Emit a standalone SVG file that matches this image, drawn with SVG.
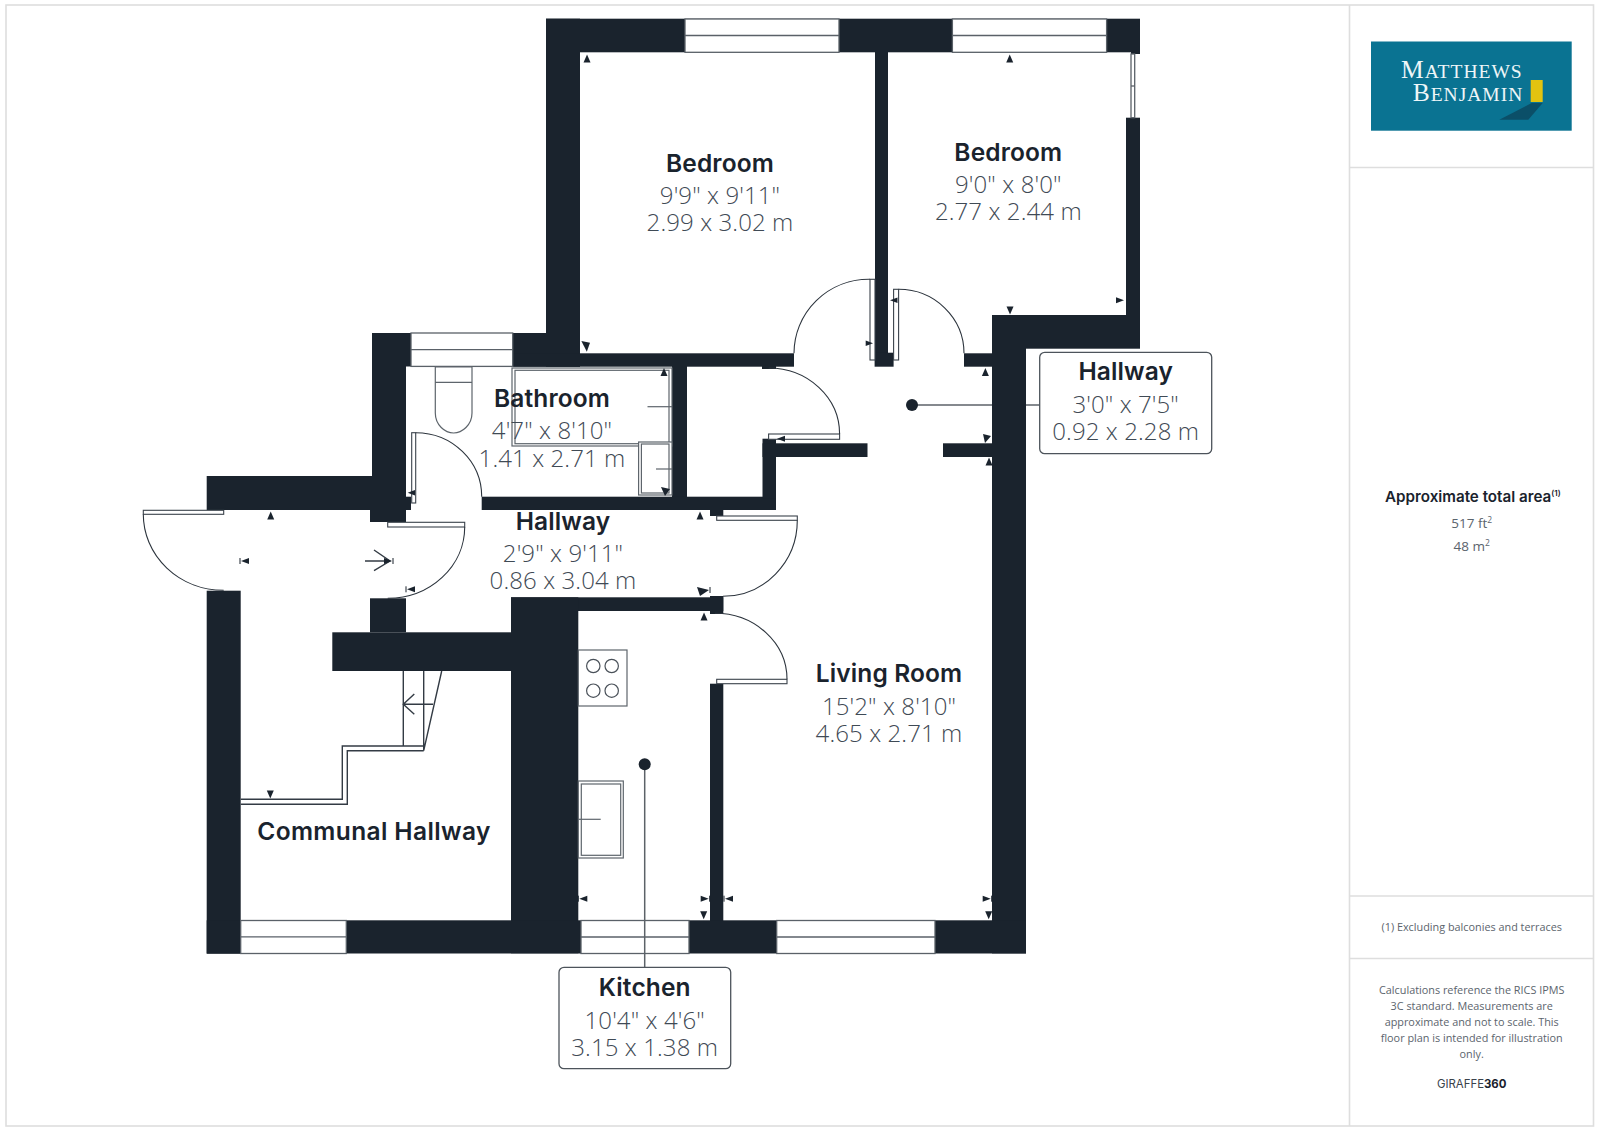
<svg xmlns="http://www.w3.org/2000/svg" width="1600" height="1131" viewBox="0 0 1600 1131">
<style>
.w{fill:#1a232d}
.win{fill:#fff;stroke:#5a6168;stroke-width:1.3}
.fx{fill:#fff;stroke:#5e656c;stroke-width:1.2}
.fo{fill:none;stroke:#5e656c;stroke-width:1.2}
.arc{fill:none;stroke:#2c343d;stroke-width:1.1}
.leaf{fill:#fff;stroke:#3a424b;stroke-width:1.1}
.st{fill:none;stroke:#333b44;stroke-width:1.4}
.mk{fill:#1a232d}
.bar{stroke:#1a232d;stroke-width:1;fill:none}
.lead{stroke:#5c6268;stroke-width:1.5;fill:none}
.box{fill:#fff;stroke:#4d545b;stroke-width:1.3}
.frame{stroke:#dedede;stroke-width:1.6;fill:none}
.n{font-family:Inter,"Liberation Sans",sans-serif;font-weight:600;font-size:24.5px;letter-spacing:.12px;fill:#1a232d;text-anchor:middle}
.d{font-family:"Open Sans","Noto Sans",sans-serif;font-weight:300;font-size:24px;letter-spacing:.1px;fill:#3f4a55;text-anchor:middle}
.s{font-family:"Open Sans","Noto Sans",sans-serif;font-size:10.85px;fill:#5b646d;text-anchor:middle}
.a{font-family:"Open Sans","Noto Sans",sans-serif;font-size:13.5px;fill:#5b646d;text-anchor:middle}
.t{font-family:Inter,"Liberation Sans",sans-serif;font-weight:600;font-size:15.2px;fill:#1a232d}
.lg{font-family:"Liberation Serif",serif;fill:#eef6f8;font-size:19.5px;letter-spacing:1px}
.lg tspan{font-size:25.5px}
</style>
<defs>
<polygon id="u" class="mk" points="0,-4 3.5,4 -3.500,4"/>
<g id="lb"><polygon class="mk" points="-4,0 4,-3 4,3"/><line class="bar" x1="-5" y1="-3" x2="-5" y2="3"/></g>
<g id="rb"><polygon class="mk" points="4,0 -4,-3 -4,3"/><line class="bar" x1="5" y1="-3" x2="5" y2="3"/></g>
</defs>

<g id="frame">
<rect class="frame" x="6" y="5" width="1587.5" height="1121"/>
<line class="frame" x1="1349.5" y1="5" x2="1349.5" y2="1126"/>
<line class="frame" x1="1349.5" y1="167.5" x2="1593.5" y2="167.5"/>
<line class="frame" x1="1349.5" y1="896" x2="1593.5" y2="896"/>
<line class="frame" x1="1349.5" y1="958.5" x2="1593.5" y2="958.5"/>
</g>

<g id="walls">
<rect class="w" x="546" y="18.7" width="594" height="33.6"/>
<rect class="w" x="546" y="18.7" width="34" height="348"/>
<rect class="w" x="372" y="333" width="39" height="33.5"/>
<rect class="w" x="512.7" y="333" width="67.3" height="33.7"/>
<rect class="w" x="512.7" y="353.3" width="281.3" height="13.4"/>
<rect class="w" x="875" y="52" width="13" height="301"/>
<rect class="w" x="874.6" y="352.7" width="19" height="14"/>
<rect class="w" x="964" y="353.3" width="28" height="13.4"/>
<rect class="w" x="1126" y="117.7" width="14" height="200"/>
<rect class="w" x="1131" y="52" width="9" height="2"/>
<rect class="w" x="992" y="315" width="148" height="33.7"/>
<rect class="w" x="992" y="315" width="34" height="638.4"/>
<rect class="w" x="672" y="366" width="15" height="131"/>
<rect class="w" x="481.7" y="496.7" width="294.3" height="13.3"/>
<rect class="w" x="762.5" y="438.7" width="13.5" height="60"/>
<rect class="w" x="762.5" y="443.3" width="105" height="13.7"/>
<rect class="w" x="943" y="443.3" width="49" height="13.7"/>
<rect class="w" x="762" y="366" width="14" height="3"/>
<rect class="w" x="710" y="510" width="13.3" height="6"/>
<rect class="w" x="372" y="366" width="34" height="112"/>
<rect class="w" x="206.7" y="476" width="199.3" height="34"/>
<rect class="w" x="370" y="510" width="36" height="12"/>
<rect class="w" x="406" y="496.7" width="5" height="13.3"/>
<rect class="w" x="206.7" y="590.7" width="34" height="363"/>
<rect class="w" x="370" y="598.3" width="36" height="34"/>
<rect class="w" x="332.3" y="632.3" width="180" height="38.7"/>
<rect class="w" x="511" y="597.3" width="212.3" height="13.7"/>
<rect class="w" x="511" y="597.3" width="67.3" height="356"/>
<rect class="w" x="710" y="596" width="13.3" height="18"/>
<rect class="w" x="710" y="683.7" width="13.3" height="240"/>
<rect class="w" x="206.7" y="920.3" width="819.3" height="33.2"/>
</g>

<g id="windows">
<rect class="win" x="685" y="19" width="154" height="33.3"/><line class="win" x1="685" y1="35.5" x2="839" y2="35.5"/>
<rect class="win" x="952.4" y="19" width="154.2" height="33.3"/><line class="win" x1="952.4" y1="35.5" x2="1106.6" y2="35.5"/>
<rect class="win" x="411" y="333" width="101.7" height="33.4"/><line class="win" x1="411" y1="349.7" x2="512.7" y2="349.7"/>
<rect class="win" x="240.7" y="920.5" width="105.6" height="33"/><line class="win" x1="240.7" y1="936.8" x2="346.3" y2="936.8"/>
<rect class="win" x="581" y="920.5" width="108" height="33"/><line class="win" x1="581" y1="937" x2="689" y2="937"/>
<rect class="win" x="776.7" y="920.5" width="158.3" height="33"/><line class="win" x1="776.7" y1="937" x2="935" y2="937"/>
<rect class="win" x="1131" y="54" width="3.7" height="63.7"/><line class="win" x1="1131" y1="86" x2="1134.7" y2="86"/>
</g>

<g id="doors">
<rect class="leaf" x="870" y="279.3" width="5" height="80.7"/><path class="arc" d="M870 279.3A75 74 0 0 0 794 353.3"/>
<rect class="leaf" x="893.6" y="289.3" width="5" height="70.7"/><path class="arc" d="M898.6 289.3A65.4 64 0 0 1 964 353.3"/>
<rect class="leaf" x="768.6" y="434" width="71" height="5.3"/><path class="arc" d="M839.6 434A71 66 0 0 0 768.6 368"/>
<rect class="leaf" x="411.7" y="432.7" width="4" height="70.3"/><path class="arc" d="M415.7 432.7A66 64 0 0 1 481.7 496.7"/>
<rect class="leaf" x="143.3" y="510.3" width="80.4" height="4"/><path class="arc" d="M143.3 514.3A80.4 76 0 0 0 223.7 590.3"/>
<rect class="leaf" x="387.7" y="522.3" width="77" height="4.7"/><path class="arc" d="M464.7 527A77 71.3 0 0 1 387.7 598.3"/>
<rect class="leaf" x="716.7" y="516" width="80.6" height="4.3"/><path class="arc" d="M797.3 520.3A74.3 76 0 0 1 723 596.3"/>
<rect class="leaf" x="716.7" y="679.3" width="70.3" height="4.4"/><path class="arc" d="M787 679.3A72 66 0 0 0 715 613.3"/>
</g>

<g id="stairs">
<path class="st" d="M240.7 799.3H342.3V746H423.7"/>
<path class="st" d="M240.7 804.3H347.3V750.7H423.7"/>
<path class="st" d="M403.3 671V746M423.7 671V750.7M441.7 671L423.7 750.7"/>
<path class="st" d="M433 704.3H403.3M414.3 694L403.3 704.3L414.3 714.3"/>
<path class="st" d="M365 561H390M374 550L390 561L374 570.7"/>
</g>

<g id="fixtures">
<rect class="fx" x="512" y="368" width="160" height="78"/>
<rect class="fo" x="515" y="370.3" width="154" height="73.4"/>
<path class="fo" d="M647.5 406.7H672"/>
<rect class="fx" x="638.6" y="442" width="33.4" height="53"/>
<rect class="fo" x="641.4" y="444" width="27.6" height="49"/>
<path class="fo" d="M656 469H672"/>
<path class="fx" d="M435.3 367H472V413C472 425 462 433 453.6 433C445 433 435.3 425 435.3 413ZM435.3 382.3H472"/>
<rect class="fx" x="578.3" y="650" width="48.7" height="56"/>
<g fill="none" stroke="#4a5159" stroke-width="1.2"><circle cx="593.3" cy="666" r="6.7"/><circle cx="611.7" cy="666" r="6.7"/><circle cx="593.3" cy="690.7" r="6.7"/><circle cx="611.7" cy="690.7" r="6.7"/></g>
<rect class="fx" x="578.3" y="781" width="45" height="77"/>
<rect class="fo" x="581.3" y="784" width="39.4" height="71.3"/>
<path class="fo" d="M578.3 819.3H600.7"/>
</g>

<g id="markers">
<use href="#u" x="587" y="58.5"/><use href="#u" x="1009.7" y="58.5"/>
<use href="#u" x="270.7" y="515.5"/><use href="#u" x="664" y="372"/><use href="#u" x="985.4" y="372"/>
<use href="#u" x="989" y="461.5"/><use href="#u" x="700" y="515.5"/><use href="#u" x="704" y="616.5"/>
<polygon class="mk" points="581.4,341 590,342.7 586.8,351.7"/>
<use href="#u" transform="rotate(180 1010 310.5)" x="1010" y="310.5"/>
<use href="#u" transform="rotate(180 270.3 794.5)" x="270.3" y="794.5"/>
<use href="#u" transform="rotate(180 703.7 915.3)" x="703.7" y="915.3"/>
<use href="#u" transform="rotate(180 988.7 915.3)" x="988.7" y="915.3"/>
<polygon class="mk" points="661,487 670,489 665,496"/>
<polygon class="mk" points="983,434 991,436 985,443"/>
<polygon class="mk" points="697,587 709,590 700,596"/>
<use href="#lb" x="245" y="561"/><use href="#rb" x="388" y="561"/><use href="#lb" x="411" y="589.3"/>
<use href="#lb" x="583.3" y="898.7"/><use href="#rb" x="704.7" y="898.7"/><use href="#lb" x="729" y="898.7"/><use href="#rb" x="986.7" y="898.7"/>
<polygon class="mk" points="407.7,492.7 415,490 415,495.5"/>
<polygon class="mk" points="890,300.3 897.5,297.5 897.5,303"/>
<polygon class="mk" points="873,343.3 865.7,340.5 865.7,346"/>
<polygon class="mk" points="777,438.7 785,435.7 785,441.7"/>
<polygon class="mk" points="1124,300.3 1116,297.3 1116,303.3"/>
<line class="bar" x1="710" y1="587" x2="710" y2="593"/>
</g>

<g id="connectors">
<line class="lead" x1="912" y1="405" x2="992" y2="405"/>
<line class="lead" x1="1026" y1="405" x2="1040" y2="405"/>
<line class="lead" x1="644.7" y1="764" x2="644.7" y2="967.5"/>
</g>

<g id="room-bedroom-1"><text class="n" x="720" y="172">Bedroom</text><text class="d" x="720" y="204.3">9'9" x 9'11"</text><text class="d" x="720" y="231.3">2.99 x 3.02 m</text></g>
<g id="room-bedroom-2"><text class="n" x="1008.3" y="160.5">Bedroom</text><text class="d" x="1008.3" y="193">9'0" x 8'0"</text><text class="d" x="1008.3" y="220">2.77 x 2.44 m</text></g>
<g id="room-bathroom"><text class="n" x="552" y="407">Bathroom</text><text class="d" x="552" y="439.3">4'7" x 8'10"</text><text class="d" x="552" y="466.7">1.41 x 2.71 m</text></g>
<g id="room-hallway"><text class="n" x="563" y="530">Hallway</text><text class="d" x="563" y="561.7">2'9" x 9'11"</text><text class="d" x="563" y="589">0.86 x 3.04 m</text></g>
<g id="room-living"><text class="n" x="889" y="682">Living Room</text><text class="d" x="889" y="714.5">15'2" x 8'10"</text><text class="d" x="889" y="741.5">4.65 x 2.71 m</text></g>
<g id="room-communal"><text class="n" x="374" y="840.3" style="letter-spacing:.38px">Communal Hallway</text></g>
<g id="room-hallway-2">
<circle class="mk" cx="912" cy="405" r="6"/>
<rect class="box" x="1039.7" y="352.3" width="172" height="101.4" rx="5"/>
<text class="n" x="1125.7" y="380">Hallway</text><text class="d" x="1125.7" y="413.3">3'0" x 7'5"</text><text class="d" x="1125.7" y="440.3">0.92 x 2.28 m</text></g>
<g id="room-kitchen">
<circle class="mk" cx="644.7" cy="764.3" r="6"/>
<rect class="box" x="559" y="967.3" width="171.7" height="101.4" rx="5"/>
<text class="n" x="644.7" y="996">Kitchen</text><text class="d" x="644.7" y="1028.7">10'4" x 4'6"</text><text class="d" x="644.7" y="1055.7">3.15 x 1.38 m</text></g>

<g id="logo">
<rect x="1371" y="41.5" width="200.7" height="89.2" fill="#0a7392"/>
<polygon points="1531.7,103 1542.7,103 1528.3,119.7 1499.3,119.7" fill="#0b4f68"/>
<rect x="1530.7" y="80" width="12" height="22" fill="#e2c30f"/>
<text class="lg" x="1401" y="78.3"><tspan>M</tspan>ATTHEWS</text>
<text class="lg" x="1412.7" y="100.7"><tspan>B</tspan>ENJAMIN</text>
</g>

<g id="area">
<text class="t" x="1385" y="501.7">Approximate total area<tspan font-size="8" dy="-6">(1)</tspan></text>
<text class="a" x="1471.7" y="528.3">517 ft<tspan font-size="8.5" dy="-5">2</tspan></text>
<text class="a" x="1471.7" y="551">48 m<tspan font-size="8.5" dy="-5">2</tspan></text>
</g>
<g id="notes">
<text class="s" x="1471.7" y="930.5">(1) Excluding balconies and terraces</text>
<text class="s" x="1471.7" y="993.5">Calculations reference the RICS IPMS</text>
<text class="s" x="1471.7" y="1009.5">3C standard. Measurements are</text>
<text class="s" x="1471.7" y="1025.5">approximate and not to scale. This</text>
<text class="s" x="1471.7" y="1041.5">floor plan is intended for illustration</text>
<text class="s" x="1471.7" y="1057.5">only.</text>
<text x="1471.7" y="1088" text-anchor="middle" font-family="Inter,'Liberation Sans',sans-serif" font-size="11.4px" fill="#3a424b">GIRAFFE<tspan font-weight="700" fill="#1a232d">360</tspan></text>
</g>
</svg>
